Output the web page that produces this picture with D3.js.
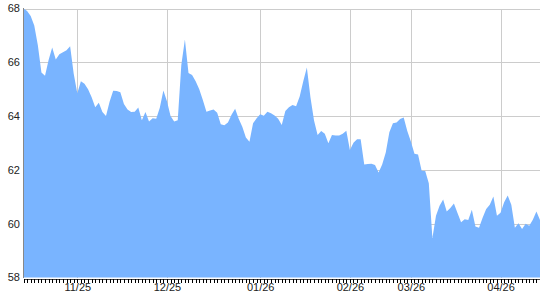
<!DOCTYPE html>
<html>
<head>
<meta charset="utf-8">
<script src="https://cdn.jsdelivr.net/npm/d3@7"></script>
<style>
  html, body { margin: 0; padding: 0; background: #fff; }
  svg { display: block; font-family: "Liberation Sans", Arial, sans-serif; }
</style>
</head>
<body>
<svg id="chart" width="540" height="300"></svg>
<script>
// ---- data ----
const values = [
  68.00, 67.91, 67.72, 67.37, 66.63, 65.62, 65.50, 66.09, 66.55, 66.10,
  66.30, 66.37, 66.45, 66.60, 65.57, 64.85, 65.30, 65.20, 65.00, 64.70,
  64.33, 64.50, 64.15, 64.00, 64.53, 64.94, 64.93, 64.89, 64.45, 64.25,
  64.15, 64.16, 64.32, 63.85, 64.15, 63.80, 63.92, 63.90, 64.31, 64.95,
  64.55, 64.00, 63.80, 63.85, 65.90, 66.85, 65.60, 65.53, 65.30, 65.00,
  64.60, 64.16, 64.21, 64.25, 64.12, 63.70, 63.66, 63.76, 64.05, 64.27,
  63.90, 63.60, 63.20, 63.05, 63.73, 63.92, 64.07, 64.01, 64.16, 64.11,
  64.02, 63.90, 63.67, 64.19, 64.33, 64.41, 64.37, 64.73, 65.30, 65.81,
  64.70, 63.84, 63.30, 63.45, 63.34, 62.99, 63.30, 63.28, 63.28, 63.34,
  63.46, 62.74, 63.01, 63.14, 63.14, 62.20, 62.22, 62.23, 62.18, 61.90,
  62.20, 62.65, 63.40, 63.73, 63.76, 63.89, 63.95, 63.45, 63.06, 62.60,
  62.57, 61.97, 61.96, 61.50, 59.47, 60.30, 60.67, 60.90, 60.45, 60.58,
  60.75, 60.40, 60.05, 60.17, 60.14, 60.52, 59.90, 59.85, 60.22, 60.55,
  60.70, 61.01, 60.30, 60.41, 60.80, 61.05, 60.70, 59.85, 60.02, 59.80,
  60.00, 59.92, 60.15, 60.45, 60.14
];
const tickLabels = ["11/25", "12/25", "01/26", "02/26", "03/26", "04/26"];
const tickIndex  = [15, 40, 66, 91, 108, 133];
const yTicks = [58, 60, 62, 64, 66, 68];

// ---- layout ----
const svg = d3.select("#chart");
const mLeft = 23.5, mRight = 540, mTop = 8.5, mBottom = 277.5;
const N = values.length;

const x = d3.scaleLinear().domain([0, N - 1]).range([mLeft, mRight]);
const y = d3.scaleLinear().domain([58, 68]).range([mBottom, mTop]);

// grid
const grid = svg.append("g").attr("shape-rendering", "crispEdges");
grid.selectAll("line.h").data(yTicks.filter(d => d > 58)).join("line")
  .attr("class", "h")
  .attr("x1", mLeft).attr("x2", mRight)
  .attr("y1", d => Math.round(y(d)) + 0.5).attr("y2", d => Math.round(y(d)) + 0.5)
  .attr("stroke", "#cccccc");
grid.selectAll("line.v").data(tickIndex).join("line")
  .attr("class", "v")
  .attr("x1", d => Math.round(x(d)) + 0.5).attr("x2", d => Math.round(x(d)) + 0.5)
  .attr("y1", mTop).attr("y2", mBottom)
  .attr("stroke", "#cccccc");

// area
const area = d3.area()
  .x((d, i) => x(i))
  .y0(y(58))
  .y1(d => y(d));
svg.append("path").datum(values)
  .attr("d", area)
  .attr("fill", "#79b4ff");

// bottom axis: one tick per point
const labelMap = new Map(tickIndex.map((t, k) => [t, tickLabels[k]]));
const xAxis = d3.axisBottom(x)
  .tickValues(d3.range(N))
  .tickSize(4)
  .tickPadding(1)
  .tickFormat(i => labelMap.get(i) || "");
const gx = svg.append("g")
  .attr("transform", `translate(0,${Math.round(mBottom) + 0.5})`)
  .call(xAxis);
gx.select(".domain").attr("stroke", "#444").attr("shape-rendering", "crispEdges");
gx.selectAll(".tick line").attr("stroke", "#000").attr("shape-rendering", "crispEdges");
gx.selectAll(".tick text").attr("font-size", 11).attr("fill", "#222")
  .attr("font-family", '"Liberation Sans", Arial, sans-serif');

// left axis
svg.append("line")
  .attr("x1", mLeft).attr("x2", mLeft)
  .attr("y1", mTop - 0.5).attr("y2", mBottom + 0.5)
  .attr("stroke", "#888").attr("shape-rendering", "crispEdges");

svg.append("g").selectAll("text").data(yTicks).join("text")
  .attr("x", 20)
  .attr("y", d => y(d))
  .attr("dy", "0.35em")
  .attr("text-anchor", "end")
  .attr("font-size", 11)
  .attr("fill", "#222")
  .text(d => d);
</script>
</body>
</html>
